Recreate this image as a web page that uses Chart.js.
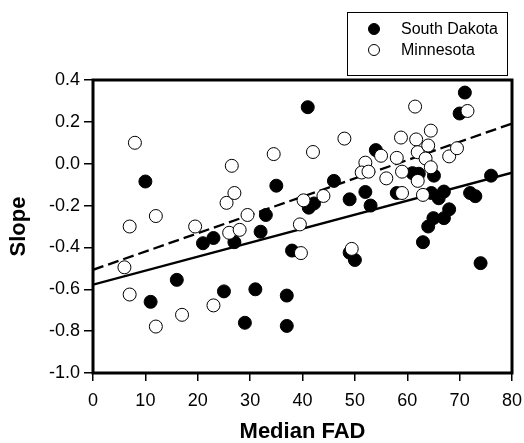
<!DOCTYPE html>
<html>
<head>
<meta charset="utf-8">
<script src="https://cdn.jsdelivr.net/npm/chart.js@4"></script>
<style>
	html, body { margin: 0; padding: 0; background: #fff; }
	#wrap { width: 524px; height: 443px; }
</style>
</head>
<body>
<div id="wrap"><canvas id="myChart"></canvas></div>
<script>
// South Dakota (filled)
var sdFad   = [10, 11, 16, 21, 23, 25, 27, 29, 31, 32, 33, 35, 37, 37, 38, 41, 41.2, 42.2, 46, 49, 49, 50,
	52, 53, 54, 58, 61, 62.2, 63, 64, 64.6, 65, 65.1, 66, 67, 67, 68, 70, 71, 72, 73, 74, 76];
var sdSlope = [-0.085, -0.66, -0.555, -0.38, -0.355, -0.61, -0.375, -0.76, -0.60, -0.325, -0.245, -0.105,
	-0.63, -0.775, -0.415, 0.27, -0.21, -0.19, -0.082, -0.17, -0.425, -0.46,
	-0.135, -0.2, 0.065, -0.14, -0.045, -0.048, -0.375, -0.30, -0.14, -0.26, -0.057, -0.165, -0.133, -0.26,
	-0.218, 0.24, 0.34, -0.14, -0.155, -0.475, -0.057];

// Minnesota (open)
var mnFad   = [6, 7, 7, 8, 12, 12, 17, 19.5, 23, 25.5, 26, 26.5, 27, 28, 29.5, 34.5, 39.5, 39.7, 40.2, 42,
	44, 48, 49.4, 52, 51.3, 52.6, 55, 56, 58, 58.8, 59, 59, 61.5, 61.7, 62, 62, 63, 63.5, 64, 64.5, 64.5,
	68, 69.5, 71.5];
var mnSlope = [-0.495, -0.30, -0.625, 0.10, -0.25, -0.778, -0.722, -0.30, -0.677, -0.187, -0.33, -0.01,
	-0.14, -0.316, -0.245, 0.046, -0.29, -0.427, -0.175, 0.056,
	-0.154, 0.12, -0.407, 0.005, -0.042, -0.038, 0.038, -0.07, 0.028, 0.125, -0.038, -0.14, 0.273, 0.116,
	0.055, -0.082, -0.149, 0.025, 0.087, 0.158, -0.017,
	0.035, 0.074, 0.252];

// Fitted lines, read at both ends of the x axis
var fitFad     = [0, 80];
var sdFitSlope = [-0.578, -0.043];
var mnFitSlope = [-0.507, 0.192];

var xTicks = [0, 10, 20, 30, 40, 50, 60, 70, 80];
var yTicks = [-1.0, -0.8, -0.6, -0.4, -0.2, 0.0, 0.2, 0.4];

function pts(xs, ys) {
	return xs.map(function (x, i) { return { x: x, y: ys[i] }; });
}

var FONT = "'Liberation Sans', Arial, sans-serif";

// Box round the plot
var frame = {
	id: 'frame',
	afterDatasetsDraw: function (chart) {
		var a = chart.chartArea, c = chart.ctx;
		c.save();
		c.strokeStyle = '#000';
		c.lineWidth = 3;
		c.strokeRect(a.left, a.top, a.right - a.left, a.bottom - a.top);
		c.restore();
	}
};

// Boxed legend in the top right corner
var boxLegend = {
	id: 'boxLegend',
	afterDraw: function (chart) {
		var c = chart.ctx;
		c.save();
		c.strokeStyle = '#000';
		c.lineWidth = 1;
		c.strokeRect(347.5, 12.5, 160, 63);
		c.font = '16px ' + FONT;
		c.textBaseline = 'middle';
		c.fillStyle = '#000';
		[0, 1].forEach(function (i) {
			var ds = chart.data.datasets[i];
			var y = 29 + i * 21;
			c.beginPath();
			c.arc(374, y, 5.5, 0, Math.PI * 2);
			c.fillStyle = ds.backgroundColor;
			c.fill();
			c.lineWidth = 1;
			c.strokeStyle = '#000';
			c.stroke();
			c.fillStyle = '#000';
			c.fillText(ds.label, 401, y + 1);
		});
		c.restore();
	}
};

var ctx = document.getElementById('myChart');
var myChart = new Chart(ctx, {
	type: 'scatter',
	data: {
		datasets: [{
			label           : 'South Dakota',
			data            : pts(sdFad, sdSlope),
			backgroundColor : '#000',
			borderColor     : '#000',
			borderWidth     : 1,
			pointRadius     : 6.5,
			order           : 2
		},{
			label           : 'Minnesota',
			data            : pts(mnFad, mnSlope),
			backgroundColor : '#fff',
			borderColor     : '#000',
			borderWidth     : 1,
			pointRadius     : 6.5,
			order           : 1
		},{
			type            : 'line',
			label           : 'South Dakota fit',
			data            : pts(fitFad, sdFitSlope),
			borderColor     : '#000',
			borderWidth     : 2.3,
			pointRadius     : 0,
			fill            : false,
			order           : 3
		},{
			type            : 'line',
			label           : 'Minnesota fit',
			data            : pts(fitFad, mnFitSlope),
			borderColor     : '#000',
			borderWidth     : 2.3,
			borderDash      : [11, 5],
			pointRadius     : 0,
			fill            : false,
			order           : 4
		}]
	},
	plugins: [frame, boxLegend],
	options: {
		responsive: true,
		maintainAspectRatio: false,
		animation: false,
		layout: { padding: { top: 80, right: 12, left: 0, bottom: 0 } },
		plugins: {
			legend  : { display: false },
			tooltip : { enabled: false }
		},
		scales: {
			x: {
				type: 'linear',
				min: 0,
				max: 80,
				afterBuildTicks: function (s) { s.ticks = xTicks.map(function (v) { return { value: v }; }); },
				// fixed height; drop the label overhang so the plot reaches x=512
				afterFit: function (s) { s.height = 70; s.paddingLeft = 0; s.paddingRight = 0; },
				border: { display: false },
				grid: { drawOnChartArea: false, drawTicks: true, tickLength: 8, color: '#000', lineWidth: 1.5 },
				ticks: { color: '#000', font: { family: FONT, size: 18 }, padding: 9, maxRotation: 0 },
				title: {
					display: true,
					text: 'Median FAD',
					color: '#000',
					font: { family: FONT, size: 22, weight: 'bold', lineHeight: 1 },
					padding: 0
				}
			},
			y: {
				type: 'linear',
				min: -1.0,
				max: 0.4,
				afterBuildTicks: function (s) { s.ticks = yTicks.map(function (v) { return { value: v }; }); },
				afterFit: function (s) { s.width = 93; },
				border: { display: false },
				grid: { drawOnChartArea: false, drawTicks: true, tickLength: 9, color: '#000', lineWidth: 1.5 },
				ticks: {
					color: '#000',
					font: { family: FONT, size: 18 },
					padding: 4,
					callback: function (v) { return v.toFixed(1); }
				},
				title: {
					display: true,
					text: 'Slope',
					color: '#000',
					font: { family: FONT, size: 22, weight: 'bold', lineHeight: 1 },
					padding: { top: 8, bottom: 0 }
				}
			}
		}
	}
});
</script>
</body>
</html>
